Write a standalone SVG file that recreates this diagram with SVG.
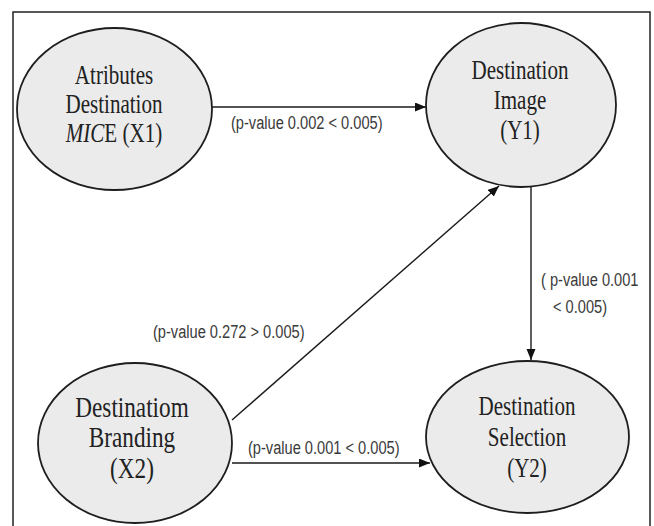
<svg xmlns="http://www.w3.org/2000/svg" width="654" height="526" viewBox="0 0 654 526">
<style>
.node ellipse{fill:#ebebeb;stroke:#1e1e1e;stroke-width:1.8}
.nt{font-family:"Liberation Serif","Times New Roman",serif;font-size:27px;fill:#222;text-anchor:middle}
.nt2{font-size:29px}
.lbl{font-family:"Liberation Sans",Arial,sans-serif;font-size:19px;fill:#3a3a3a}
.edge{stroke:#1a1a1a;stroke-width:1.4;fill:none;marker-end:url(#ah)}
</style>
<defs>
<marker id="ah" markerUnits="userSpaceOnUse" markerWidth="12" markerHeight="10" refX="11" refY="4.5" orient="auto">
<path d="M0,0 L11,4.5 L0,9 z" fill="#111"/>
</marker>
</defs>
<rect x="13" y="12" width="637" height="530" fill="#fff" stroke="#222" stroke-width="1.5"/>
<g id="connectors">
<line class="edge" x1="212" y1="107" x2="426" y2="107"/>
<line class="edge" x1="232" y1="420" x2="499" y2="186"/>
<line class="edge" x1="531" y1="187" x2="531" y2="360"/>
<line class="edge" x1="232" y1="463" x2="430" y2="463"/>
<text class="lbl" transform="translate(231,129) scale(0.77,1)">(p-value 0.002 &lt; 0.005)</text>
<text class="lbl" transform="translate(153,338) scale(0.77,1)">(p-value 0.272 &gt; 0.005)</text>
<text class="lbl" transform="translate(248,454) scale(0.77,1)">(p-value 0.001 &lt; 0.005)</text>
<text class="lbl" transform="translate(541,286) scale(0.77,1)">( p-value 0.001</text>
<text class="lbl" transform="translate(553,313) scale(0.77,1)">&lt; 0.005)</text>
</g>
<g id="x1" class="node">
<ellipse cx="114.5" cy="109" rx="97.5" ry="81"/>
<text class="nt" transform="translate(114,84) scale(0.78,1)">Atributes</text>
<text class="nt" transform="translate(114,113) scale(0.78,1)">Destination</text>
<text class="nt" transform="translate(114,142) scale(0.78,1)"><tspan font-style="italic">MIC</tspan>E (X1)</text>
</g>
<g id="y1" class="node">
<ellipse cx="521" cy="105" rx="95" ry="82"/>
<text class="nt" transform="translate(520,79) scale(0.78,1)">Destination</text>
<text class="nt" transform="translate(520,109) scale(0.78,1)">Image</text>
<text class="nt" transform="translate(520,139) scale(0.78,1)">(Y1)</text>
</g>
<g id="x2" class="node">
<ellipse cx="135" cy="443" rx="97" ry="80"/>
<text class="nt nt2" transform="translate(132,417) scale(0.8,1)">Destinatiom</text>
<text class="nt nt2" transform="translate(132,447) scale(0.8,1)">Branding</text>
<text class="nt nt2" transform="translate(132,478) scale(0.8,1)">(X2)</text>
</g>
<g id="y2" class="node">
<ellipse cx="527.5" cy="437" rx="101.5" ry="76"/>
<text class="nt" transform="translate(527,415) scale(0.78,1)">Destination</text>
<text class="nt" transform="translate(527,446) scale(0.78,1)">Selection</text>
<text class="nt" transform="translate(527,477) scale(0.78,1)">(Y2)</text>
</g>
</svg>
